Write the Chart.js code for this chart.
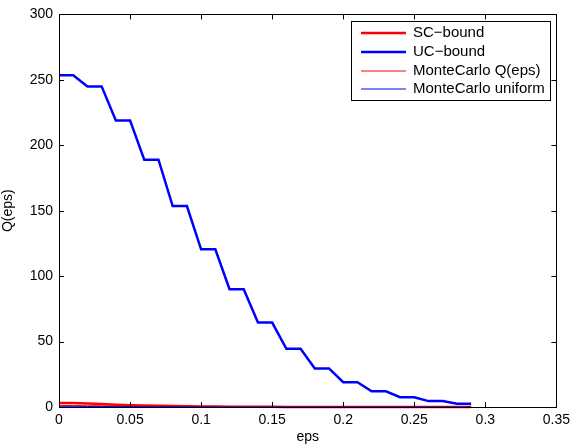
<!DOCTYPE html>
<html>
<head>
    <title>Q(eps)</title>
    <script src="https://cdn.jsdelivr.net/npm/chart.js"></script>
    <style>
        body {
            margin: 0;
            background: #fff;
        }
        canvas {
            display: block;
        }
    </style>
</head>
<body>
    <canvas id="qChart" width="575" height="446"></canvas>

    <script>
        // data
        const eps = [0, 0.01, 0.02, 0.03, 0.04, 0.05, 0.06, 0.07, 0.08, 0.09,
                     0.10, 0.11, 0.12, 0.13, 0.14, 0.15, 0.16, 0.17, 0.18, 0.19,
                     0.20, 0.21, 0.22, 0.23, 0.24, 0.25, 0.26, 0.27, 0.28, 0.29];
        const scBound = [3, 3, 2.6, 2.2, 1.8, 1.4, 1.1, 0.9, 0.7, 0.5,
                         0.4, 0.3, 0.2, 0.15, 0.1, 0.1, 0.05, 0.05, 0, 0,
                         0, 0, 0, 0, 0, 0, 0, 0, 0, 0];
        const ucBound = [253.5, 253.5, 245, 245, 219, 219, 189, 189, 153.5, 153.5,
                         120.5, 120.5, 90, 90, 64.5, 64.5, 44.5, 44.5, 29.5, 29.5,
                         19, 19, 12, 12, 7.5, 7.5, 4.5, 4.5, 2.5, 2.5];
        const mcQ = [1.2, 1.1, 1, 0.9, 0.8, 0.7, 0.6, 0.5, 0.4, 0.35,
                     0.3, 0.25, 0.2, 0.15, 0.1, 0.1, 0.05, 0.05, 0, 0,
                     0, 0, 0, 0, 0, 0, 0, 0, 0, 0];
        const mcUniform = [0.5, 0.5, 0.4, 0.4, 0.3, 0.3, 0.2, 0.2, 0.15, 0.1,
                           0.1, 0.05, 0.05, 0, 0, 0, 0, 0, 0, 0,
                           0, 0, 0, 0, 0, 0, 0, 0, 0, 0];
        const xTicks = [0, 0.05, 0.1, 0.15, 0.2, 0.25, 0.3, 0.35];
        const yTicks = [0, 50, 100, 150, 200, 250, 300];

        const fontFamily = '"Liberation Sans", Arial, Helvetica, sans-serif';

        function points(ys) {
            return eps.map((x, i) => ({ x: x, y: ys[i] }));
        }

        // matlab style box, inward ticks and legend
        const matlabAxes = {
            id: 'matlabAxes',
            afterDatasetsDraw(chart) {
                const ctx = chart.ctx;
                const area = chart.chartArea;
                const xs = chart.scales.x;
                const ys = chart.scales.y;
                const tick = 5;

                ctx.save();
                ctx.strokeStyle = '#000';
                ctx.lineWidth = 1;
                ctx.beginPath();
                xTicks.forEach(v => {
                    const px = Math.round(xs.getPixelForValue(v)) + 0.5;
                    ctx.moveTo(px, area.bottom);
                    ctx.lineTo(px, area.bottom - tick);
                    ctx.moveTo(px, area.top);
                    ctx.lineTo(px, area.top + tick);
                });
                yTicks.forEach(v => {
                    const py = Math.round(ys.getPixelForValue(v)) + 0.5;
                    ctx.moveTo(area.left, py);
                    ctx.lineTo(area.left + tick, py);
                    ctx.moveTo(area.right, py);
                    ctx.lineTo(area.right - tick, py);
                });
                ctx.stroke();
                ctx.strokeRect(Math.round(area.left) + 0.5, Math.round(area.top) + 0.5,
                               Math.round(area.right - area.left), Math.round(area.bottom - area.top));

                // legend box
                const lx = 351, ly = 21, lw = 199, lh = 79;
                ctx.fillStyle = '#fff';
                ctx.fillRect(lx, ly, lw, lh);
                ctx.strokeRect(lx + 0.5, ly + 0.5, lw, lh);
                ctx.font = '15px ' + fontFamily;
                ctx.textBaseline = 'middle';
                ctx.textAlign = 'left';
                chart.data.datasets.forEach((ds, i) => {
                    const y = Math.round(33 + i * 18.8);
                    ctx.strokeStyle = ds.borderColor;
                    ctx.lineWidth = ds.borderWidth;
                    ctx.beginPath();
                    ctx.moveTo(361, y);
                    ctx.lineTo(406, y);
                    ctx.stroke();
                    ctx.fillStyle = '#000';
                    ctx.fillText(ds.label, 413, y);
                });
                ctx.restore();
            }
        };

        new Chart(document.getElementById('qChart'), {
            type: 'line',
            data: {
                datasets: [
                    { label: 'SC\u2212bound', data: points(scBound), borderColor: '#ff0000', borderWidth: 2.5, order: 4 },
                    { label: 'UC\u2212bound', data: points(ucBound), borderColor: '#0000ff', borderWidth: 2.5, order: 3 },
                    { label: 'MonteCarlo Q(eps)', data: points(mcQ), borderColor: '#ff0000', borderWidth: 1, order: 2 },
                    { label: 'MonteCarlo uniform', data: points(mcUniform), borderColor: '#0000ff', borderWidth: 1, order: 1 }
                ]
            },
            options: {
                responsive: false,
                animation: false,
                datasets: {
                    line: { pointRadius: 0, tension: 0, fill: false, clip: 4 }
                },
                layout: { padding: { left: 0, top: 13, right: 17, bottom: 0 } },
                plugins: {
                    legend: { display: false },
                    tooltip: { enabled: false }
                },
                scales: {
                    x: {
                        type: 'linear',
                        min: 0,
                        max: 0.35,
                        afterFit: s => { s.height = 39; },
                        afterBuildTicks: s => { s.ticks = xTicks.map(v => ({ value: v })); },
                        grid: { display: false, drawTicks: false },
                        border: { display: false },
                        ticks: {
                            padding: 5,
                            color: '#000',
                            font: { family: fontFamily, size: 14 },
                            maxRotation: 0,
                            callback: v => String(Math.round(v * 100) / 100)
                        },
                        title: {
                            display: true,
                            text: 'eps',
                            color: '#000',
                            padding: 0,
                            font: { family: fontFamily, size: 14 }
                        }
                    },
                    y: {
                        min: 0,
                        max: 300,
                        afterFit: s => { s.width = 59; },
                        afterBuildTicks: s => { s.ticks = yTicks.map(v => ({ value: v })); },
                        grid: { display: false, drawTicks: false },
                        border: { display: false },
                        ticks: {
                            padding: 6,
                            color: '#000',
                            font: { family: fontFamily, size: 14 }
                        },
                        title: {
                            display: true,
                            text: 'Q(eps)',
                            color: '#000',
                            padding: 0,
                            font: { family: fontFamily, size: 14 }
                        }
                    }
                }
            },
            plugins: [matlabAxes]
        });
    </script>
</body>
</html>
